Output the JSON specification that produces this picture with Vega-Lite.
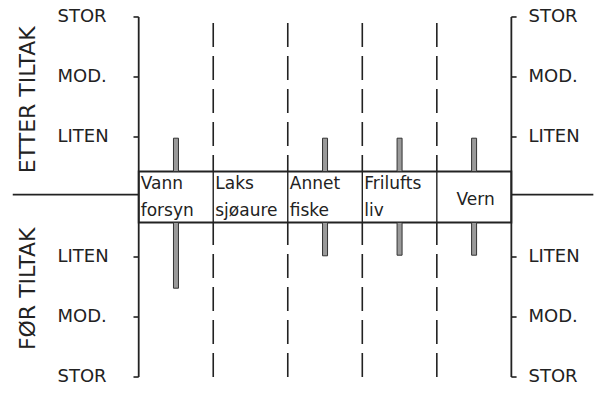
{
  "$schema": "https://vega.github.io/schema/vega-lite/v6.json",
  "width": 597,
  "height": 394,
  "padding": 0,
  "autosize": {"type": "fit", "contains": "padding"},
  "background": "white",
  "config": {"view": {"stroke": null}},
  "datasets": {
    "niva": [
      {"tekst": "STOR", "niva": 3},
      {"tekst": "MOD.", "niva": 2},
      {"tekst": "LITEN", "niva": 1},
      {"tekst": "LITEN", "niva": -1},
      {"tekst": "MOD.", "niva": -2},
      {"tekst": "STOR", "niva": -3}
    ],
    "grenser": [{"grense": 1}, {"grense": 2}, {"grense": 3}, {"grense": 4}],
    "akser": [{"akse": 0}, {"akse": 5}],
    "kategorier": [
      {"kat": "Vann\nforsyn", "start": 0, "midt": 0.5},
      {"kat": "Laks\nsjøaure", "start": 1, "midt": 1.5},
      {"kat": "Annet\nfiske", "start": 2, "midt": 2.5},
      {"kat": "Frilufts\nliv", "start": 3, "midt": 3.5}
    ],
    "tiltak": [
      {"kat": "Vann forsyn", "midt": 0.5, "fase": "etter", "niva": 0.98},
      {"kat": "Annet fiske", "midt": 2.5, "fase": "etter", "niva": 0.98},
      {"kat": "Frilufts liv", "midt": 3.5, "fase": "etter", "niva": 0.98},
      {"kat": "Vern", "midt": 4.5, "fase": "etter", "niva": 0.98},
      {"kat": "Vann forsyn", "midt": 0.5, "fase": "før", "niva": -1.52},
      {"kat": "Annet fiske", "midt": 2.5, "fase": "før", "niva": -0.98},
      {"kat": "Frilufts liv", "midt": 3.5, "fase": "før", "niva": -0.97},
      {"kat": "Vern", "midt": 4.5, "fase": "før", "niva": -0.97}
    ]
  },
  "layer": [
    {
      "data": {"values": [{}]},
      "mark": {"type": "rule", "color": "#222", "strokeWidth": 1.8},
      "encoding": {
        "x": {"datum": -1.69, "type": "quantitative", "scale": {"type": "linear", "domain": [-1.794, 6.082], "nice": false, "zero": false}, "axis": null},
        "x2": {"datum": 6.1},
        "y": {"datum": 0.04, "type": "quantitative", "scale": {"type": "linear", "domain": [-3.283, 3.283], "nice": false, "zero": false}, "axis": null}
      }
    },
    {
      "data": {"name": "grenser"},
      "mark": {"type": "rule", "color": "#222", "strokeWidth": 1.6, "strokeDash": [24, 9]},
      "encoding": {
        "x": {"field": "grense", "type": "quantitative", "scale": {"type": "linear", "domain": [-1.794, 6.082], "nice": false, "zero": false}, "axis": null},
        "y": {"datum": -3.0, "type": "quantitative", "scale": {"type": "linear", "domain": [-3.283, 3.283], "nice": false, "zero": false}, "axis": null},
        "y2": {"datum": 2.95}
      }
    },
    {
      "data": {"values": [{}]},
      "mark": {"type": "rect", "fill": "white", "stroke": "#222", "strokeWidth": 1.8},
      "encoding": {
        "x": {"datum": 0, "type": "quantitative", "scale": {"type": "linear", "domain": [-1.794, 6.082], "nice": false, "zero": false}, "axis": null},
        "x2": {"datum": 5},
        "y": {"datum": -0.425, "type": "quantitative", "scale": {"type": "linear", "domain": [-3.283, 3.283], "nice": false, "zero": false}, "axis": null},
        "y2": {"datum": 0.425}
      }
    },
    {
      "data": {"name": "grenser"},
      "mark": {"type": "rule", "color": "#222", "strokeWidth": 1.4},
      "encoding": {
        "x": {"field": "grense", "type": "quantitative", "scale": {"type": "linear", "domain": [-1.794, 6.082], "nice": false, "zero": false}, "axis": null},
        "y": {"datum": -0.425, "type": "quantitative", "scale": {"type": "linear", "domain": [-3.283, 3.283], "nice": false, "zero": false}, "axis": null},
        "y2": {"datum": 0.425}
      }
    },
    {
      "data": {"name": "tiltak"},
      "transform": [{"filter": "datum.fase === 'etter'"}],
      "mark": {"type": "bar", "fill": "#9a9a9a", "stroke": "#333", "strokeWidth": 1, "size": 5},
      "encoding": {
        "x": {"field": "midt", "type": "quantitative", "scale": {"type": "linear", "domain": [-1.794, 6.082], "nice": false, "zero": false}, "axis": null},
        "y": {"field": "niva", "type": "quantitative", "scale": {"type": "linear", "domain": [-3.283, 3.283], "nice": false, "zero": false}, "axis": null},
        "y2": {"datum": 0.425}
      }
    },
    {
      "data": {"name": "tiltak"},
      "transform": [{"filter": "datum.fase === 'før'"}],
      "mark": {"type": "bar", "fill": "#9a9a9a", "stroke": "#333", "strokeWidth": 1, "size": 5},
      "encoding": {
        "x": {"field": "midt", "type": "quantitative", "scale": {"type": "linear", "domain": [-1.794, 6.082], "nice": false, "zero": false}, "axis": null},
        "y": {"field": "niva", "type": "quantitative", "scale": {"type": "linear", "domain": [-3.283, 3.283], "nice": false, "zero": false}, "axis": null},
        "y2": {"datum": -0.425}
      }
    },
    {
      "data": {"name": "akser"},
      "mark": {"type": "rule", "color": "#222", "strokeWidth": 1.8},
      "encoding": {
        "x": {"field": "akse", "type": "quantitative", "scale": {"type": "linear", "domain": [-1.794, 6.082], "nice": false, "zero": false}, "axis": null},
        "y": {"datum": -3.0, "type": "quantitative", "scale": {"type": "linear", "domain": [-3.283, 3.283], "nice": false, "zero": false}, "axis": null},
        "y2": {"datum": 3.0}
      }
    },
    {
      "data": {"name": "niva"},
      "mark": {"type": "rule", "color": "#222", "strokeWidth": 1.6},
      "encoding": {
        "x": {"datum": -0.07, "type": "quantitative", "scale": {"type": "linear", "domain": [-1.794, 6.082], "nice": false, "zero": false}, "axis": null},
        "x2": {"datum": 0},
        "y": {"field": "niva", "type": "quantitative", "scale": {"type": "linear", "domain": [-3.283, 3.283], "nice": false, "zero": false}, "axis": null}
      }
    },
    {
      "data": {"name": "niva"},
      "mark": {"type": "rule", "color": "#222", "strokeWidth": 1.6},
      "encoding": {
        "x": {"datum": 5, "type": "quantitative", "scale": {"type": "linear", "domain": [-1.794, 6.082], "nice": false, "zero": false}, "axis": null},
        "x2": {"datum": 5.07},
        "y": {"field": "niva", "type": "quantitative", "scale": {"type": "linear", "domain": [-3.283, 3.283], "nice": false, "zero": false}, "axis": null}
      }
    },
    {
      "data": {"name": "niva"},
      "mark": {"type": "text", "font": "DejaVu Sans", "fontSize": 18, "align": "left", "baseline": "middle", "color": "#222"},
      "encoding": {
        "x": {"datum": -1.09, "type": "quantitative", "scale": {"type": "linear", "domain": [-1.794, 6.082], "nice": false, "zero": false}, "axis": null},
        "y": {"field": "niva", "type": "quantitative", "scale": {"type": "linear", "domain": [-3.283, 3.283], "nice": false, "zero": false}, "axis": null},
        "text": {"field": "tekst"}
      }
    },
    {
      "data": {"name": "niva"},
      "mark": {"type": "text", "font": "DejaVu Sans", "fontSize": 18, "align": "left", "baseline": "middle", "color": "#222"},
      "encoding": {
        "x": {"datum": 5.23, "type": "quantitative", "scale": {"type": "linear", "domain": [-1.794, 6.082], "nice": false, "zero": false}, "axis": null},
        "y": {"field": "niva", "type": "quantitative", "scale": {"type": "linear", "domain": [-3.283, 3.283], "nice": false, "zero": false}, "axis": null},
        "text": {"field": "tekst"}
      }
    },
    {
      "data": {"name": "kategorier"},
      "mark": {"type": "text", "font": "DejaVu Sans", "fontSize": 17, "align": "left", "baseline": "middle", "lineBreak": "\n", "lineHeight": 27, "dx": 2, "color": "#222"},
      "encoding": {
        "x": {"field": "start", "type": "quantitative", "scale": {"type": "linear", "domain": [-1.794, 6.082], "nice": false, "zero": false}, "axis": null},
        "y": {"datum": 0.21, "type": "quantitative", "scale": {"type": "linear", "domain": [-3.283, 3.283], "nice": false, "zero": false}, "axis": null},
        "text": {"field": "kat"}
      }
    },
    {
      "data": {"values": [{"kat": "Vern", "midt": 4.52}]},
      "mark": {"type": "text", "font": "DejaVu Sans", "fontSize": 17, "align": "center", "baseline": "middle", "color": "#222"},
      "encoding": {
        "x": {"field": "midt", "type": "quantitative", "scale": {"type": "linear", "domain": [-1.794, 6.082], "nice": false, "zero": false}, "axis": null},
        "y": {"datum": -0.05, "type": "quantitative", "scale": {"type": "linear", "domain": [-3.283, 3.283], "nice": false, "zero": false}, "axis": null},
        "text": {"field": "kat"}
      }
    },
    {
      "data": {"values": [{"tittel": "ETTER TILTAK", "niva": 1.62}, {"tittel": "FØR TILTAK", "niva": -1.53}]},
      "mark": {"type": "text", "font": "DejaVu Sans", "fontSize": 22, "align": "center", "baseline": "middle", "angle": 270, "color": "#222"},
      "encoding": {
        "x": {"datum": -1.49, "type": "quantitative", "scale": {"type": "linear", "domain": [-1.794, 6.082], "nice": false, "zero": false}, "axis": null},
        "y": {"field": "niva", "type": "quantitative", "scale": {"type": "linear", "domain": [-3.283, 3.283], "nice": false, "zero": false}, "axis": null},
        "text": {"field": "tittel"}
      }
    }
  ]
}
